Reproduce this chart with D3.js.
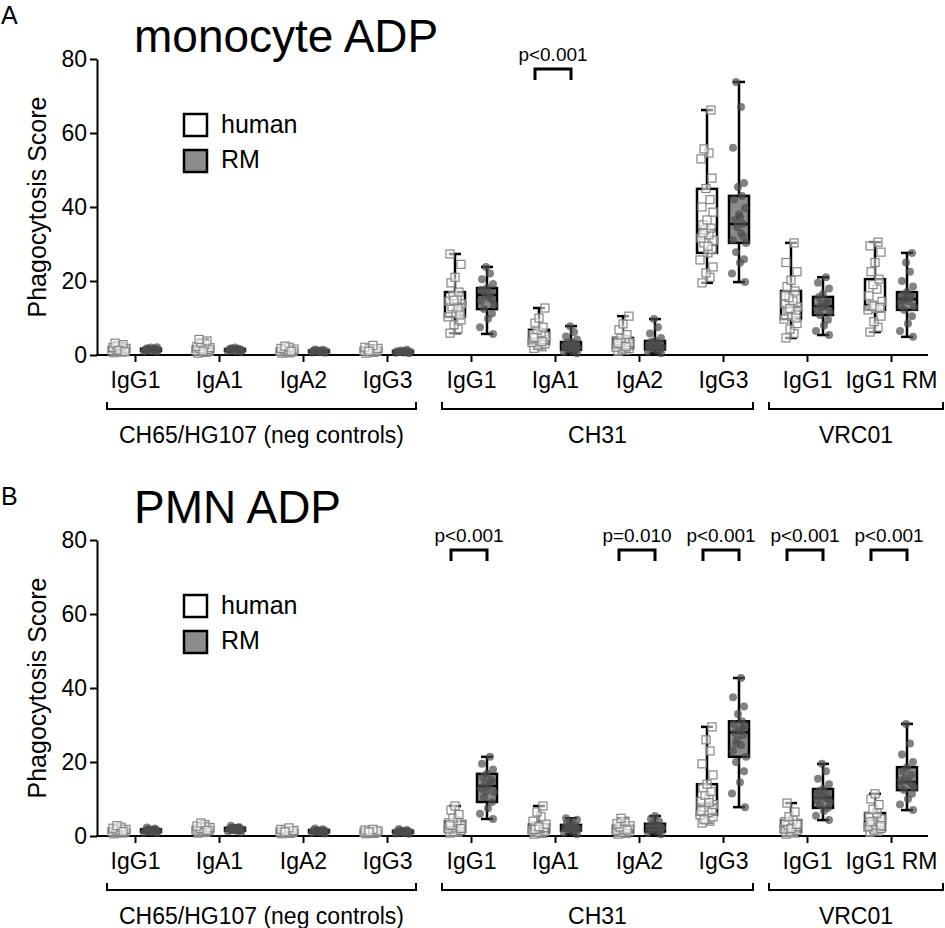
<!DOCTYPE html>
<html>
<head>
<meta charset="utf-8">
<script src="https://cdn.jsdelivr.net/npm/d3@7"></script>
<style>
  body { margin: 0; background: #fff; }
  text { font-family: 'Liberation Sans', Arial, sans-serif; fill: #000; }
</style>
</head>
<body>
<svg id="container" width="945" height="928"></svg>
<script>
const categories = ['IgG1', 'IgA1', 'IgA2', 'IgG3', 'IgG1', 'IgA1', 'IgA2', 'IgG3', 'IgG1', 'IgG1 RM']
const groupNames = ['CH65/HG107 (neg controls)', 'CH31', 'VRC01']
const groupSpans = [[0, 3], [4, 7], [8, 9]]
const yTicks = [0, 20, 40, 60, 80]
const species = ['human', 'RM']

// box stats per category: [min, q1, median, q3, max]
const monoHumanStats = [
  [0.6, 1.0, 1.5, 2.2, 3.2], [0.5, 0.9, 1.4, 2.3, 4.2], [0.5, 0.8, 1.1, 1.6, 2.4], [0.5, 0.9, 1.2, 1.8, 2.6],
  [5.9, 10.3, 13.8, 17.0, 27.3], [1.8, 3.0, 4.5, 6.8, 12.7], [1.0, 1.8, 3.0, 4.6, 10.5], [19.5, 27.6, 33.8, 44.9, 66.2],
  [4.6, 9.7, 13.0, 17.3, 30.3], [6.2, 12.2, 13.5, 20.5, 30.5]
]
const monoRmStats = [
  [0.9, 1.1, 1.4, 1.7, 2.1], [0.9, 1.1, 1.3, 1.6, 2.0], [0.6, 0.8, 1.0, 1.2, 1.5], [0.5, 0.7, 0.9, 1.1, 1.4],
  [5.7, 12.4, 16.2, 18.1, 23.8], [0.5, 1.4, 2.4, 3.5, 7.8], [0.5, 1.5, 2.5, 3.8, 9.7], [19.7, 30.3, 35.4, 43.0, 73.8],
  [5.4, 10.8, 13.2, 15.7, 21.0], [4.9, 12.2, 15.1, 17.0, 27.6]
]
const monoHumanPoints = [
  [0.6, 0.8, 1.0, 1.1, 1.2, 1.4, 1.5, 1.6, 1.8, 2.0, 2.2, 2.5, 2.8, 3.2, 1.3, 0.9],
  [0.5, 0.7, 0.9, 1.0, 1.2, 1.4, 1.5, 1.7, 2.0, 2.3, 2.8, 3.3, 3.8, 4.2, 1.1],
  [0.5, 0.6, 0.8, 0.9, 1.0, 1.1, 1.2, 1.4, 1.6, 1.8, 2.1, 2.4, 1.0],
  [0.5, 0.7, 0.9, 1.0, 1.1, 1.2, 1.3, 1.5, 1.8, 2.1, 2.6, 1.0],
  [5.9, 7.0, 8.2, 9.5, 10.3, 11.2, 12.0, 13.0, 13.8, 14.5, 15.2, 16.0, 17.0, 19.5, 21.0, 24.5, 27.3, 12.5, 14.8, 10.8],
  [1.8, 2.2, 2.6, 3.0, 3.4, 3.8, 4.2, 4.5, 5.0, 5.5, 6.0, 6.8, 7.5, 8.6, 10.0, 12.7, 4.8, 3.6],
  [1.0, 1.3, 1.6, 1.8, 2.1, 2.5, 2.8, 3.0, 3.4, 3.8, 4.2, 4.6, 5.5, 6.8, 8.4, 10.5, 3.2, 2.3],
  [19.5, 21.0, 22.2, 23.8, 25.7, 27.6, 28.5, 30.3, 31.0, 31.6, 32.5, 33.8, 34.3, 35.2, 36.5, 38.6, 40.0, 42.0, 45.0, 47.8, 53.0, 54.6, 55.7, 66.2, 29.4, 33.0],
  [4.6, 5.8, 7.0, 8.5, 9.7, 10.5, 11.4, 12.2, 13.0, 13.8, 14.6, 15.5, 17.3, 18.5, 20.2, 22.5, 25.0, 30.3, 12.6, 10.0, 16.0],
  [6.2, 7.5, 9.0, 10.5, 12.2, 12.6, 13.0, 13.5, 14.5, 16.0, 17.8, 19.0, 20.5, 22.5, 25.0, 27.8, 29.5, 30.5, 13.2, 12.8]
]
const monoRmPoints = [
  [0.9, 1.0, 1.1, 1.2, 1.3, 1.4, 1.4, 1.5, 1.6, 1.7, 1.8, 2.0, 2.1, 1.2, 1.5],
  [0.9, 1.0, 1.1, 1.2, 1.3, 1.3, 1.4, 1.5, 1.6, 1.7, 1.8, 2.0, 1.2, 1.4],
  [0.6, 0.7, 0.8, 0.9, 1.0, 1.0, 1.1, 1.2, 1.3, 1.4, 1.5, 0.9],
  [0.5, 0.6, 0.7, 0.8, 0.9, 0.9, 1.0, 1.1, 1.2, 1.4, 0.8],
  [5.7, 7.5, 9.8, 11.2, 12.4, 13.5, 14.6, 15.4, 16.2, 16.8, 17.3, 18.1, 19.2, 20.5, 22.0, 23.8, 15.0, 17.6],
  [0.5, 0.8, 1.1, 1.4, 1.7, 2.0, 2.2, 2.4, 2.7, 3.0, 3.3, 3.5, 4.2, 5.0, 6.2, 7.8, 1.9, 2.6],
  [0.5, 0.9, 1.2, 1.5, 1.8, 2.1, 2.3, 2.5, 2.8, 3.1, 3.5, 3.8, 4.6, 5.8, 7.5, 9.7, 2.0, 2.9],
  [19.7, 22.0, 24.9, 25.9, 27.8, 30.3, 31.0, 33.0, 34.6, 35.4, 36.5, 38.0, 39.7, 42.0, 43.0, 45.4, 46.5, 56.0, 67.0, 73.8, 32.0, 37.2],
  [5.4, 6.5, 8.0, 9.5, 10.8, 11.6, 12.4, 13.2, 13.8, 14.5, 15.7, 16.5, 18.0, 19.5, 21.0, 12.9, 14.1],
  [4.9, 6.5, 8.5, 10.5, 12.2, 13.0, 13.8, 14.5, 15.1, 15.7, 16.3, 17.0, 18.5, 20.0, 22.5, 25.0, 27.6, 14.8, 16.0]
]
const monoPValues = [{ cat: 5, label: 'p<0.001' }]

const pmnHumanStats = [
  [0.6, 1.0, 1.3, 1.8, 2.8], [0.8, 1.2, 1.7, 2.3, 3.5], [0.6, 0.9, 1.2, 1.5, 2.2], [0.6, 0.9, 1.1, 1.4, 1.8],
  [0.8, 1.2, 2.5, 4.0, 8.1], [0.5, 1.0, 2.0, 3.2, 8.1], [0.5, 1.0, 1.8, 2.8, 4.8], [3.5, 5.7, 8.5, 14.0, 29.5],
  [0.5, 1.1, 2.5, 4.3, 8.9], [1.0, 1.6, 3.5, 6.2, 11.4]
]
const pmnRmStats = [
  [0.8, 1.1, 1.4, 1.8, 2.3], [1.0, 1.4, 1.8, 2.2, 2.8], [0.7, 1.0, 1.3, 1.6, 2.0], [0.6, 0.9, 1.1, 1.4, 1.9],
  [4.6, 9.2, 13.5, 16.8, 21.4], [0.5, 1.5, 2.3, 3.0, 4.8], [0.5, 1.2, 2.2, 3.3, 5.4], [7.8, 21.4, 28.0, 31.0, 42.7],
  [4.3, 7.6, 10.3, 12.7, 19.5], [7.0, 12.4, 14.6, 18.6, 30.3]
]
const pmnHumanPoints = [
  [0.6, 0.8, 1.0, 1.1, 1.2, 1.3, 1.4, 1.6, 1.8, 2.1, 2.4, 2.8, 1.2],
  [0.8, 1.0, 1.2, 1.4, 1.6, 1.7, 1.9, 2.1, 2.3, 2.7, 3.1, 3.5, 1.5],
  [0.6, 0.7, 0.9, 1.0, 1.1, 1.2, 1.3, 1.4, 1.5, 1.8, 2.2, 1.1],
  [0.6, 0.7, 0.9, 1.0, 1.0, 1.1, 1.2, 1.3, 1.4, 1.6, 1.8, 1.1],
  [0.8, 1.0, 1.2, 1.5, 1.9, 2.2, 2.5, 2.8, 3.2, 3.6, 4.0, 4.8, 5.8, 7.0, 8.1, 2.0, 3.0],
  [0.5, 0.7, 1.0, 1.3, 1.6, 2.0, 2.3, 2.7, 3.2, 4.0, 5.2, 6.5, 8.1, 1.8, 2.5],
  [0.5, 0.7, 1.0, 1.2, 1.5, 1.8, 2.1, 2.4, 2.8, 3.3, 4.0, 4.8, 1.6],
  [3.5, 4.0, 4.6, 5.2, 5.7, 6.3, 7.0, 7.8, 8.5, 9.3, 10.2, 11.0, 12.0, 13.0, 14.0, 16.5, 19.5, 23.0, 26.0, 29.5, 6.8, 9.0, 4.4],
  [0.5, 0.8, 1.1, 1.5, 1.9, 2.3, 2.5, 2.9, 3.4, 3.9, 4.3, 5.2, 6.5, 8.9, 2.0, 3.1],
  [1.0, 1.3, 1.6, 2.0, 2.5, 3.0, 3.5, 4.0, 4.6, 5.3, 6.2, 7.2, 8.5, 10.0, 11.4, 2.8, 3.8]
]
const pmnRmPoints = [
  [0.8, 0.9, 1.1, 1.2, 1.3, 1.4, 1.5, 1.6, 1.8, 2.0, 2.3, 1.4],
  [1.0, 1.2, 1.4, 1.5, 1.6, 1.8, 1.9, 2.0, 2.2, 2.4, 2.8, 1.7],
  [0.7, 0.8, 1.0, 1.1, 1.2, 1.3, 1.4, 1.5, 1.6, 1.8, 2.0, 1.2],
  [0.6, 0.7, 0.9, 1.0, 1.1, 1.1, 1.2, 1.3, 1.4, 1.6, 1.9, 1.0],
  [4.6, 6.0, 7.5, 9.2, 10.5, 11.8, 12.8, 13.5, 14.3, 15.2, 16.0, 16.8, 18.0, 19.5, 21.4, 12.0, 14.8],
  [0.5, 0.9, 1.2, 1.5, 1.8, 2.0, 2.3, 2.5, 2.7, 3.0, 3.4, 3.9, 4.4, 4.8, 2.1, 2.6],
  [0.5, 0.8, 1.2, 1.5, 1.8, 2.2, 2.5, 2.9, 3.3, 3.9, 4.6, 5.4, 2.0],
  [7.8, 11.5, 14.5, 17.5, 20.0, 21.4, 23.0, 24.5, 26.0, 27.2, 28.0, 28.8, 29.6, 30.3, 31.0, 33.0, 35.0, 37.5, 42.7, 25.0, 29.0],
  [4.3, 5.5, 6.8, 7.6, 8.4, 9.2, 9.8, 10.3, 10.9, 11.5, 12.1, 12.7, 14.0, 15.5, 17.5, 19.5, 10.0, 11.0],
  [7.0, 8.5, 10.0, 11.4, 12.4, 13.1, 13.8, 14.6, 15.5, 16.5, 17.5, 18.6, 20.0, 22.0, 25.0, 30.3, 14.0, 15.0]
]
const pmnPValues = [
  { cat: 4, label: 'p<0.001' }, { cat: 6, label: 'p=0.010' }, { cat: 7, label: 'p<0.001' },
  { cat: 8, label: 'p<0.001' }, { cat: 9, label: 'p<0.001' }
]

// layout
const jitter = [-5, 3, -1, 6, -7, 1, 5, -3, 7, -6, 2, -2, 4, -4, 0, 6, -5, 3, -1, 5, -6, 2, -3, 4, 1, -4]
const groupPad = [[28, 29], [29, 30], [38, 52]]
const boxW = 20
const capW = 12
const offset = 16
const humanFill = '#fff'
const rmFill = '#8c8c8c'
const font = "'Liberation Sans', Arial, sans-serif"

const svg = d3.select('#container')

const xScale = d3.scalePoint().domain(d3.range(categories.length)).range([135, 891])

const drawPanel = (opts) => {
  const g = svg.append('g').attr('transform', `translate(0,${opts.dy})`)
  const yScale = d3.scaleLinear().domain([0, 80]).range([355, 59])

  // panel letter and title
  g.append('text').attr('x', 1).attr('y', 24).style('font-size', '25px').text(opts.letter)
  g.append('text').attr('x', 134).attr('y', opts.titleY).style('font-size', '46px').text(opts.title)

  // y axis
  const yAxis = d3.axisLeft(yScale).tickValues(yTicks).tickSize(7).tickSizeOuter(0).tickPadding(3)
  const yG = g.append('g').attr('transform', 'translate(97,0)').call(yAxis)
  yG.select('.domain').attr('stroke-width', 2)
  yG.selectAll('.tick line').attr('stroke-width', 2)
  yG.selectAll('text').style('font-size', '23px').style('font-family', font).attr('fill', '#000')

  g.append('text')
    .attr('transform', `translate(46,${yScale(40)}) rotate(-90)`)
    .attr('text-anchor', 'middle')
    .style('font-size', '25px')
    .text('Phagocytosis Score')

  // x axis
  g.append('line').attr('x1', 96).attr('x2', 928).attr('y1', yScale(0)).attr('y2', yScale(0))
    .attr('stroke', '#000').attr('stroke-width', 2)
  const xAxis = d3.axisBottom(xScale).tickFormat((i) => categories[i]).tickSize(7).tickSizeOuter(0).tickPadding(10)
  const xG = g.append('g').attr('transform', `translate(0,${yScale(0)})`).call(xAxis)
  xG.select('.domain').remove()
  xG.selectAll('.tick line').attr('stroke-width', 2)
  xG.selectAll('text').style('font-size', '23px').style('font-family', font).attr('fill', '#000')

  // group brackets
  groupSpans.forEach(([a, b], k) => {
    const x0 = xScale(a) - groupPad[k][0]
    const x1 = xScale(b) + groupPad[k][1]
    g.append('path')
      .attr('d', `M${x0},402V409H${x1}V402`)
      .attr('fill', 'none').attr('stroke', '#000').attr('stroke-width', 2)
    g.append('text')
      .attr('x', (x0 + x1) / 2).attr('y', 443)
      .attr('text-anchor', 'middle')
      .style('font-size', '23px')
      .text(groupNames[k])
  })

  // boxes
  const sets = [
    { stats: opts.humanStats, points: opts.humanPoints, dx: -offset, fill: humanFill, kind: 'square' },
    { stats: opts.rmStats, points: opts.rmPoints, dx: offset, fill: rmFill, kind: 'dot' }
  ]
  sets.forEach((s) => {
    s.stats.forEach((st, i) => {
      const cx = xScale(i) + s.dx
      const [mn, q1, md, q3, mx] = st
      const bg = g.append('g')
      bg.append('line').attr('x1', cx).attr('x2', cx).attr('y1', yScale(mx)).attr('y2', yScale(mn))
        .attr('stroke', '#000').attr('stroke-width', 2.5)
      bg.selectAll('.cap').data([mn, mx]).enter().append('line')
        .attr('x1', cx - capW / 2).attr('x2', cx + capW / 2)
        .attr('y1', (d) => yScale(d)).attr('y2', (d) => yScale(d))
        .attr('stroke', '#000').attr('stroke-width', 2.5)
      bg.append('rect')
        .attr('x', cx - boxW / 2).attr('y', yScale(q3))
        .attr('width', boxW).attr('height', yScale(q1) - yScale(q3))
        .attr('fill', s.fill).attr('stroke', '#000').attr('stroke-width', 2.5)
      bg.append('line').attr('x1', cx - boxW / 2).attr('x2', cx + boxW / 2)
        .attr('y1', yScale(md)).attr('y2', yScale(md))
        .attr('stroke', '#000').attr('stroke-width', 2.5)

      const pts = s.points[i]
      if (s.kind === 'square') {
        bg.selectAll('.pt').data(pts).enter().append('rect')
          .attr('x', (d, j) => cx + jitter[j % jitter.length] - 4)
          .attr('y', (d) => yScale(d) - 4)
          .attr('width', 8).attr('height', 8)
          .attr('fill', 'rgba(255,255,255,0.55)')
          .attr('stroke', '#858585').attr('stroke-width', 1.2)
      } else {
        bg.selectAll('.pt').data(pts).enter().append('circle')
          .attr('cx', (d, j) => cx + jitter[(j + 3) % jitter.length])
          .attr('cy', (d) => yScale(d))
          .attr('r', 4)
          .attr('fill', '#4d4d4d').attr('fill-opacity', 0.7)
      }
    })
  })

  // significance brackets
  opts.pValues.forEach((p) => {
    const cx = xScale(p.cat) - 2
    g.append('path')
      .attr('d', `M${cx - 18},80V69H${cx + 18}V80`)
      .attr('fill', 'none').attr('stroke', '#000').attr('stroke-width', 3)
    g.append('text')
      .attr('x', cx).attr('y', 61)
      .attr('text-anchor', 'middle')
      .style('font-size', '19px')
      .text(p.label)
  })

  // legend
  species.forEach((name, k) => {
    g.append('rect')
      .attr('x', 184).attr('y', 114 + k * 36)
      .attr('width', 23).attr('height', 22)
      .attr('fill', k === 0 ? humanFill : rmFill)
      .attr('stroke', '#000').attr('stroke-width', 2.5)
    g.append('text')
      .attr('x', 221).attr('y', 133 + k * 35)
      .style('font-size', '25px')
      .text(name)
  })
}

drawPanel({
  dy: 0, letter: 'A', title: 'monocyte ADP', titleY: 52,
  humanStats: monoHumanStats, rmStats: monoRmStats,
  humanPoints: monoHumanPoints, rmPoints: monoRmPoints, pValues: monoPValues
})
drawPanel({
  dy: 481, letter: 'B', title: 'PMN ADP', titleY: 42,
  humanStats: pmnHumanStats, rmStats: pmnRmStats,
  humanPoints: pmnHumanPoints, rmPoints: pmnRmPoints, pValues: pmnPValues
})
</script>
</body>
</html>
